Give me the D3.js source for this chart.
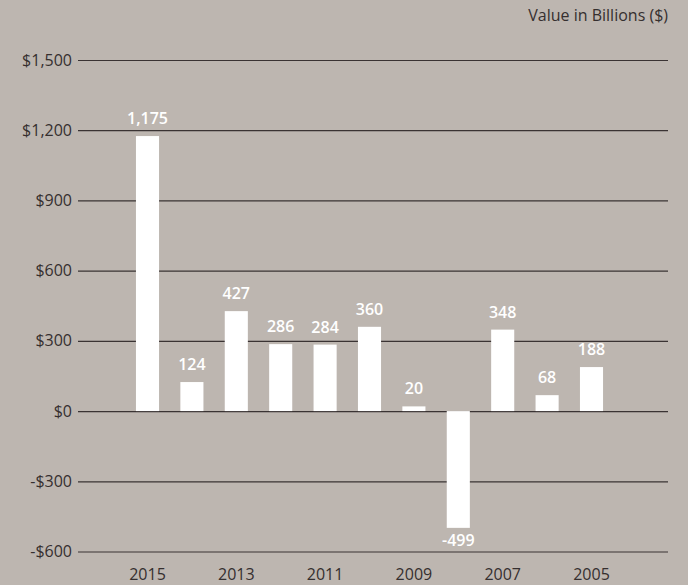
<!DOCTYPE html>
<html>
<head>
<meta charset="utf-8">
<script src="https://cdn.jsdelivr.net/npm/d3@7"></script>
<style>
  html, body { margin: 0; padding: 0; background: #bdb6b0; }
  svg { display: block; font-family: "Open Sans", sans-serif; }
</style>
</head>
<body>
<div id="chart"></div>
<script>
// chart data
const years = ["2015", "2014", "2013", "2012", "2011", "2010", "2009", "2008", "2007", "2006", "2005"];
const values = [1175, 124, 427, 286, 284, 360, 20, -499, 348, 68, 188];
const yTicks = [-600, -300, 0, 300, 600, 900, 1200, 1500];
const xLabels = ["2015", "2013", "2011", "2009", "2007", "2005"];
const unitLabel = "Value in Billions ($)";

const width = 688, height = 585;
const textColor = "#352f2f";
const fmt = d => (d < 0 ? "-" : "") + d3.format(",")(Math.abs(d));

const svg = d3.select("#chart")
    .append("svg")
    .attr("width", width)
    .attr("height", height);

svg.append("rect")
    .attr("width", width)
    .attr("height", height)
    .attr("fill", "#bdb6b0");

const y = d3.scaleLinear()
    .domain([-600, 1500])
    .range([551.5, 60]);

const x = d3.scaleBand()
    .domain(years)
    .range([125.3, 613.7])
    .paddingInner(0.48)
    .paddingOuter(0.24);

const gridLeft = 78, gridRight = 668;

// grid lines + y labels
const yAxis = svg.append("g")
    .attr("transform", `translate(${gridRight},0)`)
    .call(d3.axisLeft(y)
        .tickValues(yTicks)
        .tickSize(gridRight - gridLeft)
        .tickPadding(6)
        .tickFormat(d => (d < 0 ? "-$" : "$") + d3.format(",")(Math.abs(d))));

yAxis.attr("font-family", null).attr("font-size", null);
yAxis.select(".domain").remove();
yAxis.selectAll(".tick line")
    .attr("stroke", "#3a3333")
    .attr("stroke-width", 1.2);
yAxis.selectAll(".tick text")
    .attr("fill", textColor)
    .style("font-size", "16px");

// bars
svg.append("g")
    .selectAll("rect")
    .data(values)
    .enter().append("rect")
    .attr("x", (d, i) => x(years[i]))
    .attr("width", x.bandwidth())
    .attr("y", d => y(Math.max(0, d)))
    .attr("height", d => Math.abs(y(d) - y(0)))
    .attr("fill", "#ffffff");

// value labels
svg.append("g")
    .selectAll("text")
    .data(values)
    .enter().append("text")
    .attr("x", (d, i) => x(years[i]) + x.bandwidth() / 2)
    .attr("y", d => d >= 0 ? y(d) - 12 : y(d) + 18)
    .attr("text-anchor", "middle")
    .attr("fill", "#ffffff")
    .style("font-size", "16px")
    .style("font-weight", 600)
    .text(fmt);

// x labels
const xAxis = svg.append("g")
    .attr("transform", `translate(0,${y(-600)})`)
    .call(d3.axisBottom(x)
        .tickValues(xLabels)
        .tickSize(0)
        .tickPadding(17));

xAxis.attr("font-family", null).attr("font-size", null);
xAxis.select(".domain").remove();
xAxis.selectAll(".tick text")
    .attr("fill", textColor)
    .style("font-size", "16px");

// unit label
svg.append("text")
    .attr("x", gridRight)
    .attr("y", 21)
    .attr("text-anchor", "end")
    .attr("fill", textColor)
    .style("font-size", "16px")
    .text(unitLabel);
</script>
</body>
</html>
